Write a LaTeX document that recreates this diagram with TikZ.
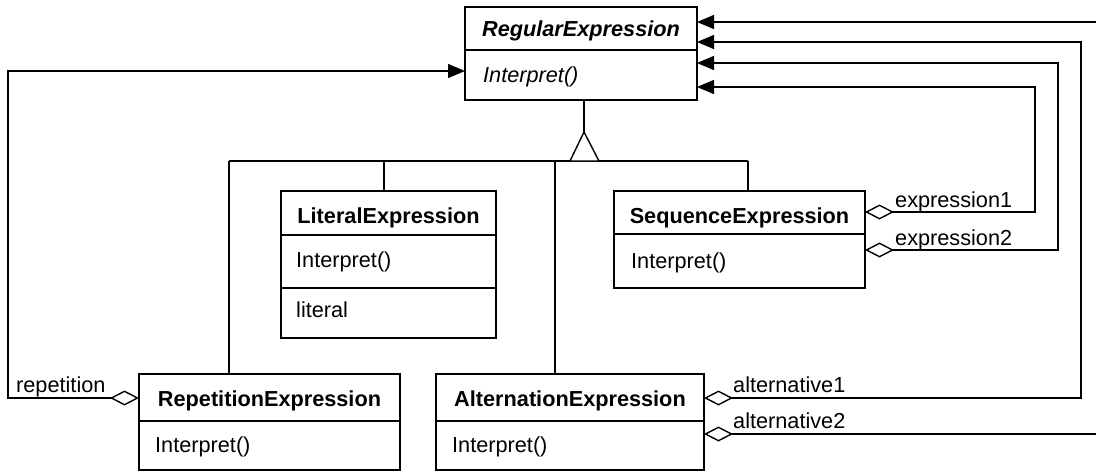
\documentclass[tikz,border=0pt]{standalone}
\usepackage{fontspec}
\setmainfont{Liberation Sans}
\usetikzlibrary{arrows.meta,calc}
\begin{document}
\begin{tikzpicture}[x=1pt,y=-1pt,
  box/.style={draw, line width=1.4pt, inner sep=0pt, outer sep=0pt, anchor=north west},
  txt/.style={inner sep=0pt, font=\fontsize{21.7pt}{26pt}\selectfont},
  cname/.style={inner sep=0pt, anchor=base, font=\fontsize{21.7pt}{26pt}\selectfont\bfseries},
  op/.style={txt, anchor=base west},
  lbl/.style={txt, anchor=base west},
  conn/.style={line width=1.4pt},
  agg/.style={conn, {Diamond[open,length=29pt,width=15pt]}-{Triangle[length=17pt,width=14pt]}}
]
\useasboundingbox (0,0) rectangle (1096,472);

% class boxes
\node[box, minimum width=232pt, minimum height=93pt] (reg) at (465,7) {};
\node[box, minimum width=215pt, minimum height=147pt] (lit) at (281,191) {};
\node[box, minimum width=251pt, minimum height=97pt] (seq) at (614,191) {};
\node[box, minimum width=261pt, minimum height=96pt] (rep) at (139,374) {};
\node[box, minimum width=268pt, minimum height=96pt] (alt) at (436,374) {};

% compartment dividers
\draw[conn] ([yshift=-43pt]reg.north west) -- ([yshift=-43pt]reg.north east);
\draw[conn] ([yshift=-44pt]lit.north west) -- ([yshift=-44pt]lit.north east);
\draw[conn] ([yshift=-97pt]lit.north west) -- ([yshift=-97pt]lit.north east);
\draw[conn] ([yshift=-43pt]seq.north west) -- ([yshift=-43pt]seq.north east);
\draw[conn] ([yshift=-47pt]rep.north west) -- ([yshift=-47pt]rep.north east);
\draw[conn] ([yshift=-47pt]alt.north west) -- ([yshift=-47pt]alt.north east);

% texts
\node[cname, font=\fontsize{21.7pt}{26pt}\selectfont\bfseries\itshape] (regn) at (581,36) {RegularExpression};
\node[op, font=\fontsize{21.7pt}{26pt}\selectfont\itshape] (rego) at (483,82) {Interpret()};
\node[cname] (litn) at (388.5,223) {LiteralExpression};
\node[op] (lito) at (296,267) {Interpret()};
\node[op] (lita) at (296,317) {literal};
\node[cname] (seqn) at (739.5,223) {SequenceExpression};
\node[op] (seqo) at (631,268) {Interpret()};
\node[cname] (repn) at (269.5,406) {RepetitionExpression};
\node[op] (repo) at (155,452) {Interpret()};
\node[cname] (altn) at (570,406) {AlternationExpression};
\node[op] (alto) at (452,452) {Interpret()};

% inheritance
\coordinate (apex) at (584,132);
\coordinate (bl) at (570,161);
\coordinate (br) at (599,161);
\coordinate (hl) at (229,161);
\coordinate (hr) at (748,161);
\coordinate (jl) at (384,161);
\coordinate (ja) at (555,161);
\draw[conn] (reg.south -| apex) -- (apex);
\draw[conn] (hl) -- (hr);
\draw[conn, fill=white] (bl) -- (apex) -- (br) -- cycle;
\draw[conn] (hl) -- (hl |- rep.north);
\draw[conn] (jl) -- (jl |- lit.north);
\draw[conn] (ja) -- (ja |- alt.north);
\draw[conn] (hr) -- (hr |- seq.north);

% aggregations
\coordinate (k0) at (8,71);
\coordinate (k1) at (1035,87);
\coordinate (k2) at (1058,63);
\coordinate (k3) at (1081,42);
\coordinate (k4) at (1100,22);
\draw[agg] ([yshift=-24pt]rep.north west) -| (k0) -- (k0 -| reg.west);
\draw[agg] ([yshift=-21pt]seq.north east) -| (k1) -- (k1 -| reg.east);
\draw[agg] ([yshift=-59pt]seq.north east) -| (k2) -- (k2 -| reg.east);
\draw[agg] ([yshift=-24pt]alt.north east) -| (k3) -- (k3 -| reg.east);
\draw[agg] ([yshift=-60pt]alt.north east) -| (k4) -- (k4 -| reg.east);

% role labels
\node[lbl] (lrep) at (16,392) {repetition};
\node[lbl] (la1) at (733,392) {alternative1};
\node[lbl] (la2) at (733,428) {alternative2};
\node[lbl] (le1) at (895,207) {expression1};
\node[lbl] (le2) at (895,245) {expression2};
\end{tikzpicture}
\end{document}
